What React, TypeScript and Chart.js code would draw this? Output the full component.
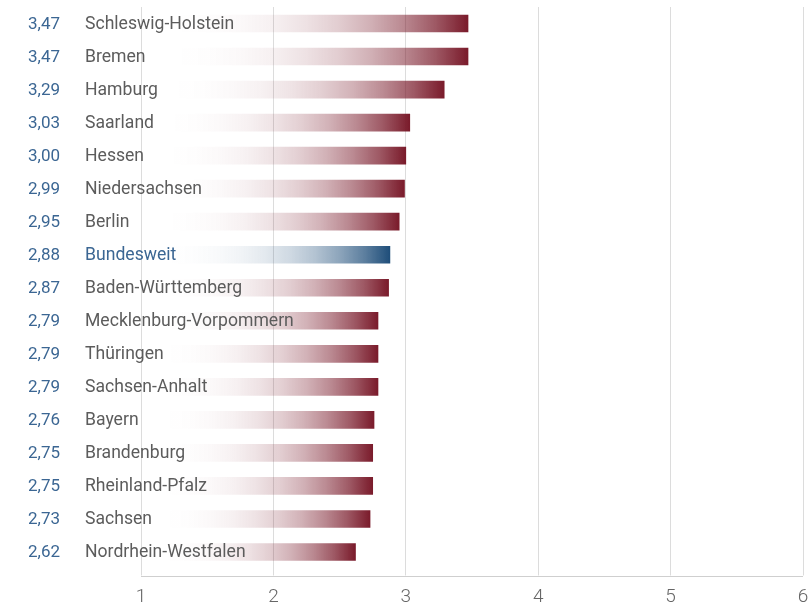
import React, { useEffect, useRef } from "react";
import { Chart, registerables } from "chart.js";

Chart.register(...registerables);

const categories = [
  "Schleswig-Holstein",
  "Bremen",
  "Hamburg",
  "Saarland",
  "Hessen",
  "Niedersachsen",
  "Berlin",
  "Bundesweit",
  "Baden-Württemberg",
  "Mecklenburg-Vorpommern",
  "Thüringen",
  "Sachsen-Anhalt",
  "Bayern",
  "Brandenburg",
  "Rheinland-Pfalz",
  "Sachsen",
  "Nordrhein-Westfalen",
];

const values = [3.47, 3.47, 3.29, 3.03, 3.0, 2.99, 2.95, 2.88, 2.87, 2.79, 2.79, 2.79, 2.76, 2.75, 2.75, 2.73, 2.62];

const highlight = "Bundesweit";
const axisMin = 1;
const axisMax = 6;

const RED = [122, 27, 43];
const BLUE = [31, 78, 122];

const fmt = (v: number) => v.toFixed(2).replace(".", ",");

const labelsPlugin = {
  id: "rowLabels",
  afterDatasetsDraw(chart: any) {
    const { ctx } = chart;
    const meta = chart.getDatasetMeta(0);
    ctx.save();
    ctx.textBaseline = "middle";
    meta.data.forEach((el: any, i: number) => {
      const y = el.y;
      const isHi = categories[i] === highlight;
      ctx.font = "17px Roboto";
      ctx.fillStyle = "#3b6693";
      ctx.textAlign = "right";
      ctx.fillText(fmt(values[i]), 60, y + 1);
      ctx.font = "17.6px Roboto";
      ctx.fillStyle = isHi ? "#3b6693" : "#5c5c5c";
      ctx.textAlign = "left";
      ctx.fillText(categories[i], 85, y + 1);
    });
    ctx.restore();
  },
};

const baselinePlugin = {
  id: "baseline",
  beforeDatasetsDraw(chart: any) {
    const { ctx, chartArea } = chart;
    ctx.save();
    ctx.strokeStyle = "#cfcfcf";
    ctx.lineWidth = 1;
    ctx.beginPath();
    const y = Math.round(chartArea.bottom + 7) + 0.5;
    ctx.moveTo(chartArea.left, y);
    ctx.lineTo(chartArea.right, y);
    ctx.stroke();
    ctx.restore();
  },
};

export default function App() {
  const ref = useRef<HTMLCanvasElement | null>(null);
  useEffect(() => {
    if (!ref.current) return;
    const chart = new Chart(ref.current, {
      type: "bar",
      data: {
        labels: categories,
        datasets: [
          {
            data: values,
            base: axisMin,
            barThickness: 17,
            borderWidth: 0,
            backgroundColor: (c: any) => {
              const ch = c.chart;
              if (!ch.chartArea || c.dataIndex === undefined) return "rgba(0,0,0,0)";
              const xs = ch.scales.x;
              const x0 = xs.getPixelForValue(axisMin);
              const x1 = xs.getPixelForValue(values[c.dataIndex]);
              const col = categories[c.dataIndex] === highlight ? BLUE : RED;
              const g = ch.ctx.createLinearGradient(x0, 0, x1, 0);
              for (let k = 0; k <= 10; k++) {
                const t = k / 10;
                const a = Math.pow(t, 3);
                g.addColorStop(t, `rgba(${col[0]},${col[1]},${col[2]},${a})`);
              }
              return g;
            },
          },
        ],
      },
      options: {
        indexAxis: "y",
        animation: false,
        responsive: true,
        maintainAspectRatio: false,
        layout: { padding: { left: 141, right: 8, top: 7, bottom: 0 } },
        plugins: { legend: { display: false }, tooltip: { enabled: false } },
        scales: {
          y: { display: false, offset: true },
          x: {
            min: axisMin,
            max: axisMax,
            border: { display: false },
            afterFit: (s: any) => {
              s.height = 39.5;
              s.paddingLeft = 0;
              s.paddingRight = 0;
            },
            grid: { color: "#dcdcdc", lineWidth: 1, tickLength: 7, tickColor: "#dcdcdc" },
            ticks: {
              stepSize: 1,
              padding: 10,
              color: "#666666",
              font: { family: "Roboto", size: 19, weight: "300" },
            },
          },
        },
      },
      plugins: [baselinePlugin, labelsPlugin],
    } as any);
    return () => chart.destroy();
  }, []);
  return (
    <div style={{ position: "absolute", left: 0, top: 0, width: 811, height: 608 }}>
      <canvas ref={ref} />
    </div>
  );
}
